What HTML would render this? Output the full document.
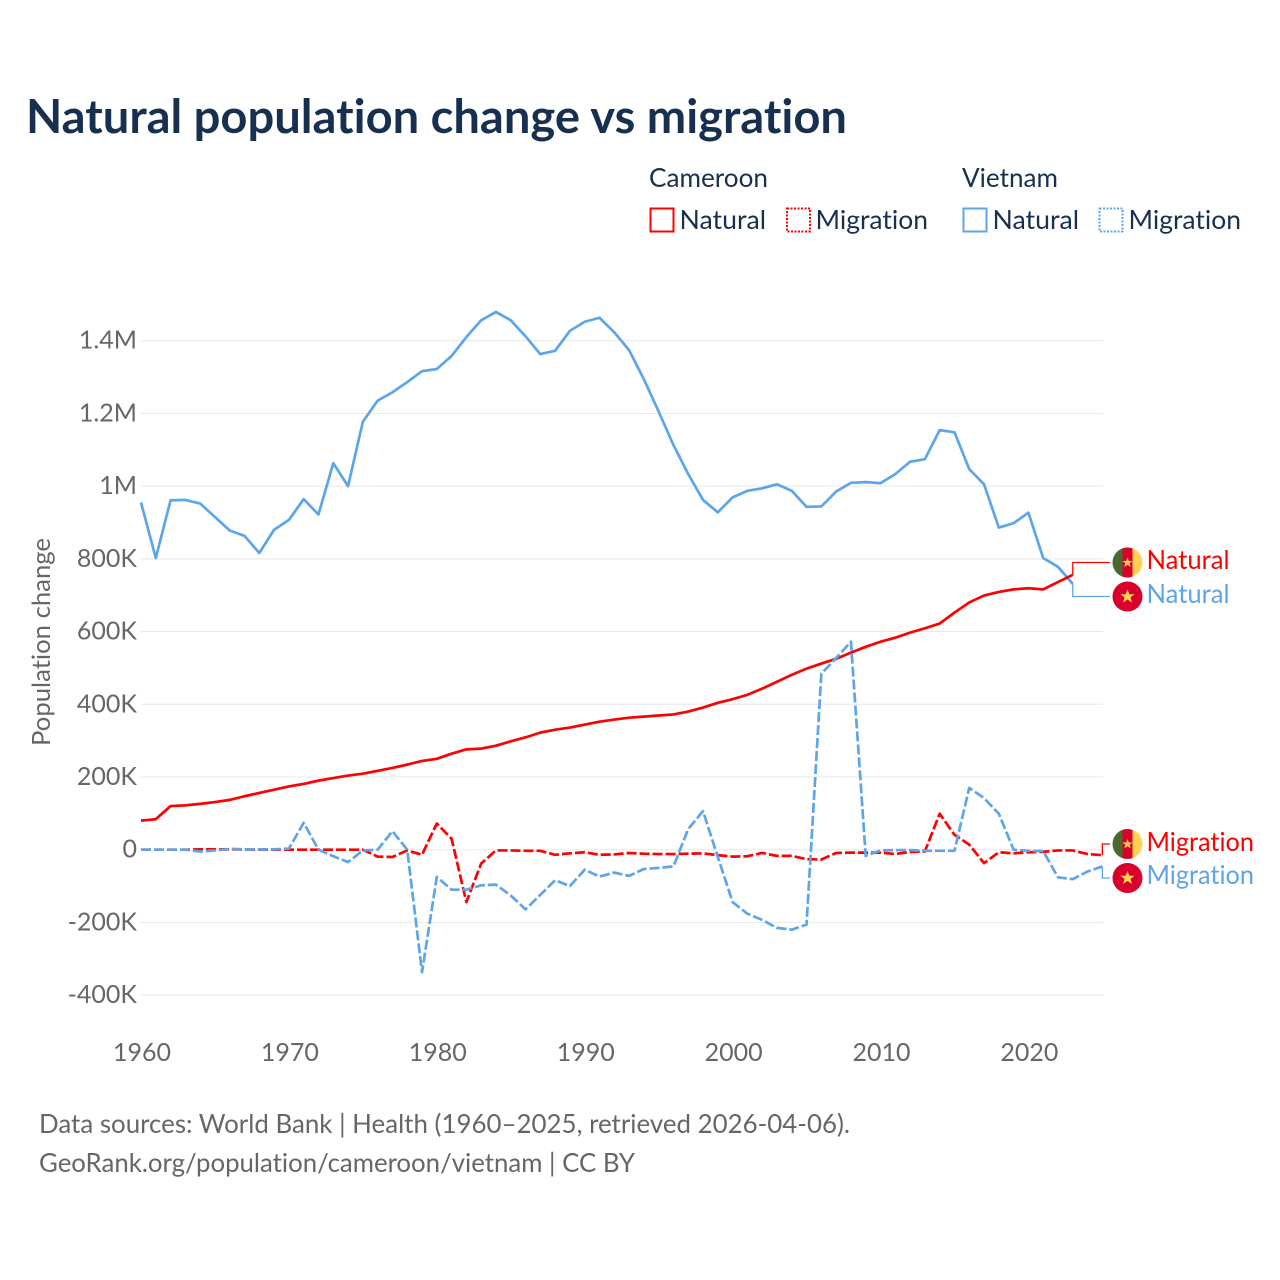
<!DOCTYPE html>
<html lang="en">
<head>
<meta charset="utf-8">
<title>Natural population change vs migration</title>
<style>
html,body{margin:0;padding:0;background:#fff}
svg{display:block}
text{font-family:"Lato","Carlito","Liberation Sans",sans-serif;font-variant-ligatures:none;font-feature-settings:"liga" 0,"clig" 0}
</style>
</head>
<body>
<svg id="chart" xmlns="http://www.w3.org/2000/svg" width="1280" height="1280" viewBox="0 0 1280 1280">
  <rect x="0" y="0" width="1280" height="1280" fill="#fff"/>
  <text x="26" y="133" font-size="47" font-weight="700" fill="#18304f" textLength="821" lengthAdjust="spacingAndGlyphs">Natural population change vs migration</text>

  <g font-size="26" fill="#18304f">
    <text x="649" y="187" textLength="119" lengthAdjust="spacingAndGlyphs">Cameroon</text>
    <text x="962" y="187" textLength="96" lengthAdjust="spacingAndGlyphs">Vietnam</text>
    <g>
      <rect x="650.5" y="208.5" width="23" height="23" fill="none" stroke="#ff0000" stroke-width="2"/>
      <text x="679.5" y="229" textLength="86.5" lengthAdjust="spacingAndGlyphs">Natural</text>
    </g>
    <g>
      <rect x="787" y="208.5" width="23" height="23" fill="none" stroke="#ff0000" stroke-width="2" stroke-dasharray="2,1.5"/>
      <text x="815.5" y="229" textLength="112.5" lengthAdjust="spacingAndGlyphs">Migration</text>
    </g>
    <g>
      <rect x="963.5" y="208.5" width="23" height="23" fill="none" stroke="#5da5ea" stroke-width="2"/>
      <text x="992.5" y="229" textLength="86.5" lengthAdjust="spacingAndGlyphs">Natural</text>
    </g>
    <g>
      <rect x="1099.5" y="208.5" width="23" height="23" fill="none" stroke="#5da5ea" stroke-width="2" stroke-dasharray="2,1.5"/>
      <text x="1128.5" y="229" textLength="112.5" lengthAdjust="spacingAndGlyphs">Migration</text>
    </g>
  </g>

  <g id="grid"></g>
  <g id="yaxis" font-size="25" fill="#666666" text-anchor="end"></g>
  <g id="xaxis" font-size="25" fill="#666666" text-anchor="middle"></g>
  <text transform="translate(50,746) rotate(-90)" font-size="25" fill="#666666" textLength="208" lengthAdjust="spacingAndGlyphs">Population change</text>

  <g id="series"></g>

  <defs>
    <clipPath id="flag-clip-a"><circle cx="1127.5" cy="562.5" r="15"/></clipPath>
    <clipPath id="flag-clip-b"><circle cx="1127.5" cy="844" r="15"/></clipPath>
  </defs>

  <g clip-path="url(#flag-clip-a)">
    <rect x="1112" y="547" width="11" height="31" fill="#4a6a2c"/>
    <rect x="1122.5" y="547" width="10" height="31" fill="#d9002c"/>
    <rect x="1132.5" y="547" width="11" height="31" fill="#ffd34f"/>
    <polygon points="1127.5,557.5 1128.9,561 1132.6,561 1129.6,563.3 1130.7,566.9 1127.5,564.8 1124.3,566.9 1125.4,563.3 1122.4,561 1126.1,561" fill="#ffd34f"/>
  </g>
  <g>
    <circle cx="1127.5" cy="596.5" r="15" fill="#d9002c"/>
    <polygon points="1127.5,589.5 1129.4,594.2 1134.6,594.2 1130.5,597.4 1132,602.5 1127.5,599.5 1123,602.5 1124.5,597.4 1120.4,594.2 1125.6,594.2" fill="#ffd34f"/>
  </g>
  <g clip-path="url(#flag-clip-b)">
    <rect x="1112" y="828" width="11" height="32" fill="#4a6a2c"/>
    <rect x="1122.5" y="828" width="10" height="32" fill="#d9002c"/>
    <rect x="1132.5" y="828" width="11" height="32" fill="#ffd34f"/>
    <polygon points="1127.5,839 1128.9,842.5 1132.6,842.5 1129.6,844.8 1130.7,848.4 1127.5,846.3 1124.3,848.4 1125.4,844.8 1122.4,842.5 1126.1,842.5" fill="#ffd34f"/>
  </g>
  <g>
    <circle cx="1127.5" cy="878" r="15" fill="#d9002c"/>
    <polygon points="1127.5,871 1129.4,875.7 1134.6,875.7 1130.5,878.9 1132,884 1127.5,881 1123,884 1124.5,878.9 1120.4,875.7 1125.6,875.7" fill="#ffd34f"/>
  </g>

  <g font-size="26">
    <text x="1146.5" y="569" fill="#ff0000" textLength="83" lengthAdjust="spacingAndGlyphs">Natural</text>
    <text x="1146.5" y="603" fill="#5da5ea" textLength="83" lengthAdjust="spacingAndGlyphs">Natural</text>
    <text x="1146.5" y="851" fill="#ff0000" textLength="107.5" lengthAdjust="spacingAndGlyphs">Migration</text>
    <text x="1146.5" y="884" fill="#5da5ea" textLength="107.5" lengthAdjust="spacingAndGlyphs">Migration</text>
  </g>

  <g font-size="26" fill="#666666">
    <text x="39" y="1133" textLength="811" lengthAdjust="spacingAndGlyphs">Data sources: World Bank | Health (1960–2025, retrieved 2026-04-06).</text>
    <text x="39" y="1172" textLength="596" lengthAdjust="spacingAndGlyphs">GeoRank.org/population/cameroon/vietnam | CC BY</text>
  </g>
</svg>

<script>
const startYear = 1960;
const yTickValues = [1400, 1200, 1000, 800, 600, 400, 200, 0, -200, -400];
const yTickLabels = ["1.4M", "1.2M", "1M", "800K", "600K", "400K", "200K", "0", "-200K", "-400K"];
const xTickYears = [1960, 1970, 1980, 1990, 2000, 2010, 2020];

/* Values in thousands of people, one per year from 1960 */
const vietnamNatural = [955,802,961,962,952,915,878,863,816,880,907,964,922,1063,1000,1177,1235,1258,1286,1316,1322,1358,1410,1456,1479,1456,1412,1363,1372,1427,1452,1463,1423,1374,1294,1205,1113,1033,962,928,969,987,994,1005,987,943,944,985,1009,1011,1008,1033,1067,1074,1154,1148,1047,1005,886,898,927,802,778,731];
const cameroonNatural = [80,84,120,122,126,131,137,147,156,165,174,181,190,197,204,209,217,225,234,244,250,264,276,278,286,298,309,322,330,336,344,352,358,363,366,369,372,380,391,404,414,426,443,462,481,498,512,525,542,558,572,583,597,609,622,652,680,699,709,716,719,716,736,756];
const cameroonMigration = [0,0,0,0,1,1,1,1,0,0,0,0,0,0,0,0,-19,-20,-2,-14,72,30,-144,-38,-2,-2,-3,-3,-14,-10,-7,-14,-13,-9,-11,-12,-12,-11,-10,-15,-19,-18,-9,-17,-17,-26,-27,-9,-8,-8,-8,-12,-6,-5,99,41,14,-37,-7,-10,-7,-6,-2,-2,-12,-15];
const vietnamMigration = [0,0,0,0,-5,-2,2,1,1,1,3,74,0,-18,-34,-2,0,51,0,-337,-75,-110,-110,-98,-96,-126,-164,-124,-84,-100,-55,-74,-63,-72,-53,-50,-46,57,106,-20,-144,-176,-193,-215,-220,-206,484,527,572,-17,-2,-1,-1,-3,-3,-3,170,142,99,0,-3,-4,-76,-81,-60,-46];

const RED = "#ff0000";
const BLUE = "#5da5ea";
const NS = "http://www.w3.org/2000/svg";

function x(year) { return 141 + (year - 1960) * 14.79; }
function y(v) { return 849.7 - v * 0.3636; }

const gridGroup = document.getElementById("grid");
const yAxisGroup = document.getElementById("yaxis");
const xAxisGroup = document.getElementById("xaxis");
const seriesGroup = document.getElementById("series");

yTickValues.forEach(function (v, i) {
  const line = document.createElementNS(NS, "line");
  
  
  line.setAttribute("x1", 141);
  line.setAttribute("x2", 1103);
  line.setAttribute("y1", y(v));
  line.setAttribute("y2", y(v));
  line.setAttribute("stroke", "#e8e8e8");
  line.setAttribute("stroke-width", "1");
  gridGroup.appendChild(line);

  const label = document.createElementNS(NS, "text");
  
  
  label.setAttribute("x", 137);
  label.setAttribute("y", y(v) + 8);
  label.textContent = yTickLabels[i];
  yAxisGroup.appendChild(label);
});

xTickYears.forEach(function (year) {
  const label = document.createElementNS(NS, "text");
  
  
  label.setAttribute("x", x(year) + 1);
  label.setAttribute("y", 1061);
  label.textContent = String(year);
  xAxisGroup.appendChild(label);
});

function linePath(values) {
  return values.map(function (v, i) {
    return (i ? "L" : "M") + x(startYear + i).toFixed(2) + " " + y(v).toFixed(2);
  }).join(" ");
}

function drawSeries(values, color, dashed, name) {
  const path = document.createElementNS(NS, "path");
  
  
  path.setAttribute("d", linePath(values));
  path.setAttribute("fill", "none");
  path.setAttribute("stroke", color);
  path.setAttribute("stroke-width", "2.7");
  path.setAttribute("stroke-linejoin", "round");
  if (dashed) path.setAttribute("stroke-dasharray", "10,3");
  seriesGroup.appendChild(path);
}

function drawConnector(values, color, labelY, name) {
  const last = values.length - 1;
  const px = x(startYear + last);
  const py = y(values[last]);
  const path = document.createElementNS(NS, "path");
  
  
  path.setAttribute("d", "M" + px + " " + py + " V" + labelY + " H1110");
  path.setAttribute("fill", "none");
  path.setAttribute("stroke", color);
  path.setAttribute("stroke-width", "1.3");
  seriesGroup.appendChild(path);
}

drawConnector(cameroonNatural, RED, 562.5, "connector-cameroon-natural");
drawConnector(vietnamNatural, BLUE, 596.5, "connector-vietnam-natural");
drawConnector(cameroonMigration, RED, 844, "connector-cameroon-migration");
drawConnector(vietnamMigration, BLUE, 878, "connector-vietnam-migration");

drawSeries(vietnamNatural, BLUE, false, "line-vietnam-natural");
drawSeries(cameroonNatural, RED, false, "line-cameroon-natural");
drawSeries(cameroonMigration, RED, true, "line-cameroon-migration");
drawSeries(vietnamMigration, BLUE, true, "line-vietnam-migration");
</script>
</body>
</html>
